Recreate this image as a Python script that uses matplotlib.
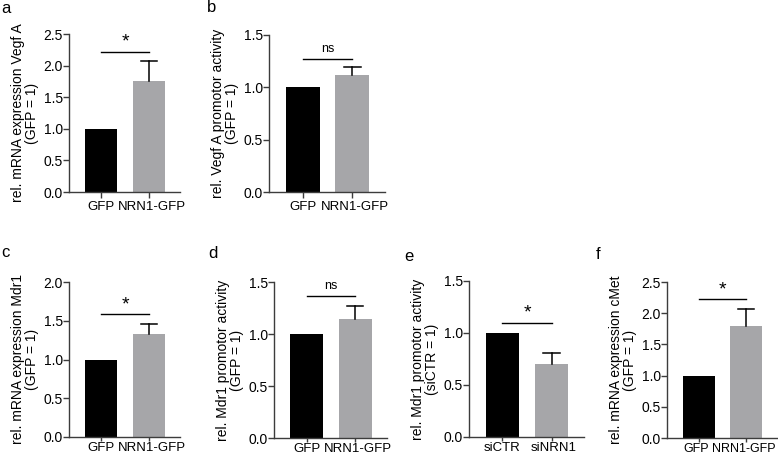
import matplotlib
matplotlib.use("Agg")
import matplotlib.pyplot as plt
from matplotlib.transforms import ScaledTranslation

plt.rcParams['font.family'] = ['Liberation Sans', 'DejaVu Sans']

# data
panels = ['a', 'b', 'c', 'd', 'e', 'f']
groups_gfp = ['GFP', 'NRN1-GFP']
groups_si = ['siCTR', 'siNRN1']
groups = [groups_gfp, groups_gfp, groups_gfp, groups_gfp, groups_si, groups_gfp]
means = [[1.0, 1.75], [1.0, 1.115], [1.0, 1.33], [1.0, 1.14], [1.0, 0.70], [1.0, 1.80]]
err_up = [[0, 0.32], [0, 0.083], [0, 0.13], [0, 0.13], [0, 0.11], [0, 0.27]]
ylabels = ['rel. mRNA expression Vegf A\n(GFP = 1)',
           'rel. Vegf A promotor activity\n(GFP = 1)',
           'rel. mRNA expression Mdr1\n(GFP = 1)',
           'rel. Mdr1 promotor activity\n(GFP = 1)',
           'rel. Mdr1 promotor activity\n(siCTR = 1)',
           'rel. mRNA expression cMet\n(GFP = 1)']
ytop = [2.5, 1.5, 2.0, 1.5, 1.5, 2.5]
sig_text = ['*', 'ns', '*', 'ns', '*', '*']
sig_y = [2.22, 1.274, 1.59, 1.367, 1.10, 2.22]

# layout in pixels: left, right, top, bottom of each axes
W, H = 778, 457
boxes = [(69, 180, 34, 192), (269, 385, 35, 192),
         (69, 180, 282, 437), (274, 387, 282, 438),
         (469, 584, 281, 437), (667, 777, 282, 438)]
xtick_len = [4.5, 4.5, 3, 3, 3, 3]
xpad = [2.3, 2.3, 0.3, 0.3, 0.3, 0.3]
xlab_size = [9.5, 9.5, 9.5, 9.5, 9.5, 9]
xlab_shift = [(0, 3), (0, 3), (0, 3), (0, 3), (0, 2), (-3, -2)]  # px
letter_pos = [(1, 13), (207, 12), (1, 257), (208, 258), (404, 261), (596, 259)]

bar_colors = ['black', '#a6a6a9']
axis_col = '#3c3c3c'

fig = plt.figure(figsize=(W / 100, H / 100), dpi=100)

for i in range(6):
    L, R, T, B = boxes[i]
    ax = fig.add_axes([L / W, 1 - B / H, (R - L) / W, (B - T) / H])
    xs = [0, 1]
    ax.bar(xs, means[i], width=0.68, color=bar_colors, zorder=2)
    # upper error bars only
    for x, m, e in zip(xs, means[i], err_up[i]):
        if e > 0:
            ax.plot([x, x], [m, m + e], color='black', lw=1.1, zorder=3)
            ax.plot([x - 0.17, x + 0.17], [m + e, m + e], color='black', lw=1.1, zorder=3)
    # significance bar
    ax.plot([0, 1], [sig_y[i], sig_y[i]], color='black', lw=1.0)
    if sig_text[i] == '*':
        ax.text(0.5, sig_y[i] + ytop[i] * 0.005, '*', ha='center', va='bottom', fontsize=14)
    else:
        ax.text(0.5, sig_y[i] + ytop[i] * 0.025, 'ns', ha='center', va='bottom', fontsize=9)

    ax.set_xlim(-0.68, 1.66)
    ax.set_ylim(0, ytop[i])
    nt = int(round(ytop[i] / 0.5)) + 1
    ax.set_yticks([k * 0.5 for k in range(nt)])
    ax.set_yticklabels(['%.1f' % (k * 0.5) for k in range(nt)])
    ax.set_xticks(xs)
    ax.set_xticklabels(groups[i])
    ax.set_ylabel(ylabels[i], fontsize=10, labelpad=3, linespacing=1.05)

    for s in ['top', 'right']:
        ax.spines[s].set_visible(False)
    for s in ['left', 'bottom']:
        ax.spines[s].set_color(axis_col)
        ax.spines[s].set_linewidth(1.0)
    ax.tick_params(axis='both', colors=axis_col, labelcolor='black', width=1.0)
    ax.tick_params(axis='y', labelsize=10, length=4, pad=0.5)
    ax.tick_params(axis='x', labelsize=xlab_size[i], length=xtick_len[i], pad=xpad[i])
    # small horizontal nudges of the group labels, as in the source
    for lab, dx in zip(ax.get_xticklabels(), xlab_shift[i]):
        lab.set_transform(lab.get_transform() + ScaledTranslation(dx / 100, 0, fig.dpi_scale_trans))

    lx, ly = letter_pos[i]
    fig.text(lx / W, 1 - ly / H, panels[i], fontsize=12, va='baseline', ha='left')

fig.savefig('out.png', dpi=100)
